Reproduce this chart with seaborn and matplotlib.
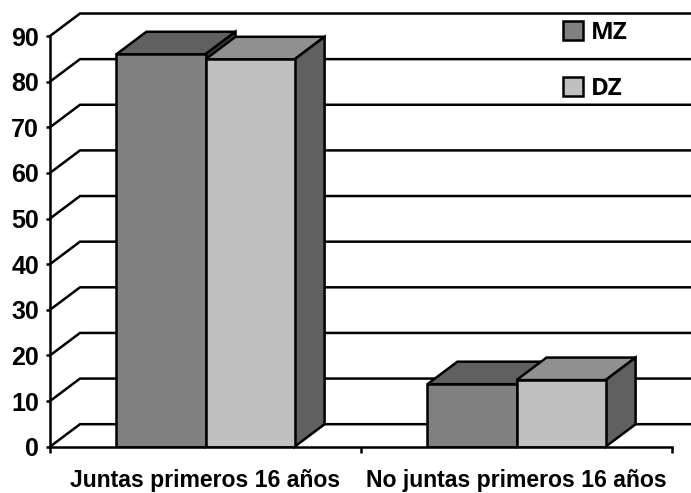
import matplotlib
matplotlib.use("Agg")
import matplotlib.pyplot as plt
import pandas as pd
import seaborn as sns
from matplotlib.patches import Polygon

categories = ["Juntas primeros 16 años", "No juntas primeros 16 años"]
mz_values = [86.0, 13.7]
dz_values = [84.9, 14.6]
y_ticks = list(range(0, 100, 10))

front_colors = {"MZ": "#808080", "DZ": "#c0c0c0"}
top_colors = {"MZ": "#606060", "DZ": "#909090"}
side_colors = {"MZ": "#404040", "DZ": "#606060"}
INK = "black"
LW = 1.8

W, H = 691, 493
df = pd.DataFrame({
    "grupo": ["MZ"] * 2 + ["DZ"] * 2,
    "categoria": categories * 2,
    "valor": mz_values + dz_values,
})

sns.set_theme(style="white")
plt.rcParams["font.family"] = ["Liberation Sans"]

fig = plt.figure(figsize=(W / 100, H / 100), dpi=100)
ax = fig.add_axes([50 / W, (H - 446.7) / H, 622 / W, 410.7 / H])

sns.barplot(
    data=df, x="categoria", y="valor", hue="grupo",
    palette=front_colors, hue_order=["MZ", "DZ"],
    width=0.573, gap=0, saturation=1,
    edgecolor=INK, linewidth=LW, ax=ax,
)
ax.set_xlim(-0.5, 1.5)
ax.set_ylim(0, 90)
ax.set_xlabel("")
ax.set_ylabel("")

# Oblique offset of the receding edges, in data units
depth_x = 30 / 311
depth_y = 22.5 / (410.7 / 90)

# Back wall and floor lines
for v in y_ticks:
    ax.plot([-0.5, -0.5 + depth_x, 1.5 + depth_x],
            [v, v + depth_y, v + depth_y],
            color=INK, lw=LW, zorder=0.5, clip_on=False,
            solid_joinstyle="miter")

# Top and side faces of every bar
for z, (container, name) in enumerate(zip(ax.containers, ["MZ", "DZ"]), start=2):
    for bar in container:
        bar.set_zorder(z + 0.5)
        bar.set_joinstyle("miter")
        x0, w, h = bar.get_x(), bar.get_width(), bar.get_height()
        x1 = x0 + w
        top = [(x0, h), (x1, h), (x1 + depth_x, h + depth_y), (x0 + depth_x, h + depth_y)]
        side = [(x1, 0), (x1 + depth_x, depth_y), (x1 + depth_x, h + depth_y), (x1, h)]
        for pts, col in ((top, top_colors[name]), (side, side_colors[name])):
            ax.add_patch(Polygon(pts, closed=True, facecolor=col, edgecolor=INK,
                                 linewidth=LW, zorder=z, joinstyle="miter",
                                 clip_on=False))

# Axes, ticks and tick labels
sns.despine(ax=ax, top=True, right=True)
for side_name in ("left", "bottom"):
    ax.spines[side_name].set_color(INK)
    ax.spines[side_name].set_linewidth(LW)
    ax.spines[side_name].set_zorder(6)

ax.set_yticks(y_ticks)
ax.tick_params(axis="y", which="major", left=True, length=3, width=LW, color=INK,
               pad=5, labelsize=18, labelcolor=INK)
for label in ax.get_yticklabels():
    label.set_fontweight("bold")

ax.set_xticks([0, 1])
ax.set_xticklabels(categories)
ax.set_xticks([-0.5, 0.5, 1.5], minor=True)
ax.tick_params(axis="x", which="major", bottom=False, length=0, pad=16,
               labelsize=16.6, labelcolor=INK)
ax.tick_params(axis="x", which="minor", bottom=True, length=4.5, width=LW, color=INK)
for label in ax.get_xticklabels():
    label.set_fontweight("bold")

# Legend in the upper right corner
handles, labels = ax.get_legend_handles_labels()
leg = ax.legend(
    handles, labels, loc="upper left",
    bbox_to_anchor=(563 / W, (H - 20.5) / H), bbox_transform=fig.transFigure,
    frameon=False, borderpad=0, borderaxespad=0,
    handlelength=0.84, handleheight=0.84, handletextpad=0.3,
    labelspacing=1.33,
    prop={"family": "Open Sans", "weight": "bold", "size": 17.5},
)
for text in leg.get_texts():
    text.set_color(INK)
leg.set_zorder(10)

fig.savefig("out.png", dpi=100)
